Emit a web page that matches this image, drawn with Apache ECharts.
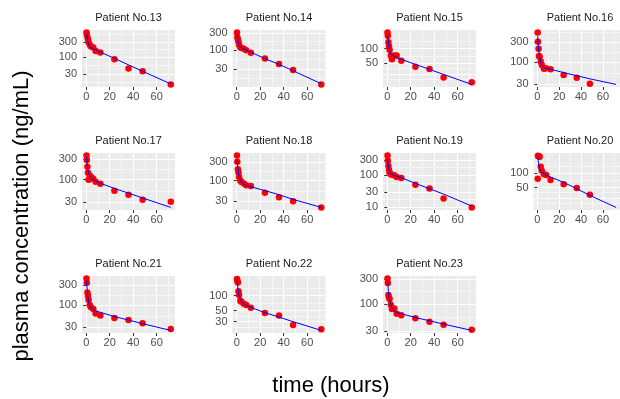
<!DOCTYPE html>
<html>
<head>
<meta charset="utf-8">
<script src="https://cdn.jsdelivr.net/npm/echarts@6/dist/echarts.min.js"></script>
<style>
  html, body { margin: 0; padding: 0; background: #ffffff; overflow: hidden; }
  #chart { width: 620px; height: 399px; }
</style>
</head>
<body>
<div id="chart"></div>
<script>
// Sampling times (hours after dose)
const hours = [0.25, 0.5, 1, 1.5, 2, 3, 4, 6, 8, 12, 24, 36, 48, 72];

// Observed plasma concentrations (ng/mL) per patient
const obs13 = [580, 500, 420, 350, 290, 240, 215, 200, 155, 138, 85, 44, 36, 14];
const obs14 = [310, 230, 200, 170, 140, 120, 115, 110, 100, 85, 58, 41, 28, 11];
const obs15 = [216, 185, 136, 112, 95, 72, 60, 72, 72, 56, 42, 37.5, 25, 20];
const obs16 = [515, 310, 210, 140, 135, 104, 85, 69, 71, 67, 48.6, 42, 30, null];
const obs17 = [360, 285, 200, 145, 100, 125, 115, 105, 90, 81, 56, 45, 34.5, 31];
const obs18 = [430, 300, 195, 160, 124, 101, 92, 84, 76, 73, 49, 38, 30, 21];
const obs19 = [410, 285, 195, 145, 120, 108, 104, 100, 89, 82, 51, 38.5, 19, 10];
const obs20 = [76, 232, 228, 225, 223, 136, 113, 95, 92, 72, 58.5, 49, 35, null];
const obs21 = [420, 335, 198, 165, 133, 100, 88, 80, 63, 56, 49, 44, 37, 27];
const obs22 = [215, 200, 184, 123, 103, 79, 75, 69, 65, 57, 45, 40, 25.7, 21];
const obs23 = [310, 254, 150, 134, 125, 97, 80, 82, 65, 61, 53, 45.5, 40, 32];

// Model-predicted concentrations (ng/mL) at the same times
const fit13 = [520, 440, 350, 290, 250, 210, 195, 180, 167, 143, 91, 57, 36, 14.5];
const fit14 = [290, 250, 190, 160, 140, 122, 115, 108, 100, 88, 58, 40, 26.5, 11.5];
const fit15 = [200, 170, 130, 105, 92, 78, 72, 68, 65, 60, 47, 37, 29, 18];
const fit16 = [420, 330, 230, 170, 135, 100, 85, 74, 71, 67, 56, 47, 39.5, 29];
const fit17 = [330, 280, 210, 165, 140, 120, 110, 100, 93, 83, 63, 49, 38, 23];
const fit18 = [340, 280, 200, 155, 130, 105, 92, 82, 76, 70, 56, 44, 33.5, 21];
const fit19 = [340, 270, 190, 150, 127, 110, 104, 99, 93, 84, 56, 38, 26, 11];
const fit20 = [235, 200, 160, 140, 125, 110, 103, 96, 91, 83, 64, 47, 34, 19];
const fit21 = [380, 300, 200, 150, 120, 95, 85, 76, 72, 67, 53, 44, 36, 25];
const fit22 = [220, 180, 140, 115, 100, 85, 77, 69, 64, 58, 45.5, 37, 30, 20];
const fit23 = [290, 240, 175, 140, 120, 97, 85, 74, 69, 65, 55, 47.5, 41, 31];

// Axis breaks
const xBreaks = [0, 20, 40, 60];
const xMinorBreaks = [10, 30, 50, 70];
const yBreaksA = [30, 100, 300];
const yBreaksB = [30, 50, 100];
const yBreaksC = [10, 30, 100, 300];

const panelTitles = ['Patient No.13', 'Patient No.14', 'Patient No.15', 'Patient No.16',
  'Patient No.17', 'Patient No.18', 'Patient No.19', 'Patient No.20',
  'Patient No.21', 'Patient No.22', 'Patient No.23'];
const panelObs = [obs13, obs14, obs15, obs16, obs17, obs18, obs19, obs20, obs21, obs22, obs23];
const panelFit = [fit13, fit14, fit15, fit16, fit17, fit18, fit19, fit20, fit21, fit22, fit23];
const panelBreaks = [yBreaksA, yBreaksA, yBreaksB, yBreaksA, yBreaksA, yBreaksA, yBreaksC,
  yBreaksB, yBreaksA, yBreaksB, yBreaksA];

// Facet layout (4 columns)
const colLeft = [82, 232.5, 383, 533.5];
const rowTop = [30, 153, 276];
const panelW = 93;
const panelH = 57;

const FONT = '"Liberation Sans", Arial, Helvetica, sans-serif';
const xMin = -3.6, xMax = 75.6;

// minor breaks midway between majors in log space (extended one step each side)
function minorBreaks(logMajors) {
  const b = logMajors.slice();
  b.unshift(b[0] - (b[1] - b[0]));
  b.push(b[b.length - 1] + (b[b.length - 1] - b[b.length - 2]));
  const out = [];
  for (let i = 0; i < b.length - 1; i++) out.push((b[i] + b[i + 1]) / 2);
  return out;
}

const grid = [], xAxis = [], yAxis = [], series = [], graphic = [];

panelTitles.forEach((title, i) => {
  const col = i % 4, row = Math.floor(i / 4);
  const left = colLeft[col], top = rowTop[row];
  grid.push({
    left: left, top: top, width: panelW, height: panelH,
    show: true, backgroundColor: '#EBEBEB', borderWidth: 0, containLabel: false
  });

  const logObs = panelObs[i].filter(v => v != null).map(Math.log10);
  const logFit = panelFit[i].filter(v => v != null).map(Math.log10);
  const all = logObs.concat(logFit);
  const lo = Math.min.apply(null, all), hi = Math.max.apply(null, all);
  const pad = (hi - lo) * 0.05;
  const yMin = lo - pad, yMax = hi + pad;
  const majors = panelBreaks[i].map(Math.log10);
  const minors = minorBreaks(majors).filter(v => v > yMin && v < yMax);

  // main x axis: major grid, ticks, labels
  xAxis.push({
    type: 'value', gridIndex: i, min: xMin, max: xMax,
    axisLine: { show: false },
    axisTick: { show: true, inside: false, length: 3, lineStyle: { color: '#333333', width: 1 }, customValues: xBreaks },
    axisLabel: { show: true, customValues: xBreaks, color: '#4D4D4D', fontSize: 11, fontFamily: FONT, margin: 4 },
    splitLine: { show: true, lineStyle: { color: '#FFFFFF', width: 1.1 } },
    z: 2
  });
  // secondary x axis: minor grid only
  xAxis.push({
    type: 'value', gridIndex: i, min: xMin, max: xMax,
    axisLine: { show: false },
    axisTick: { show: false, customValues: xMinorBreaks },
    axisLabel: { show: false, customValues: xMinorBreaks },
    splitLine: { show: true, lineStyle: { color: '#FFFFFF', width: 0.55 } },
    z: 1
  });
  yAxis.push({
    type: 'value', gridIndex: i, min: yMin, max: yMax,
    axisLine: { show: false },
    axisTick: { show: true, inside: false, length: 3, lineStyle: { color: '#333333', width: 1 }, customValues: majors },
    axisLabel: {
      show: true, customValues: majors, color: '#4D4D4D', fontSize: 11, fontFamily: FONT, margin: 5,
      formatter: v => String(Math.round(Math.pow(10, v)))
    },
    splitLine: { show: true, lineStyle: { color: '#FFFFFF', width: 1.1 } },
    z: 2
  });
  yAxis.push({
    type: 'value', gridIndex: i, min: yMin, max: yMax,
    axisLine: { show: false },
    axisTick: { show: false, customValues: minors },
    axisLabel: { show: false, customValues: minors },
    splitLine: { show: true, lineStyle: { color: '#FFFFFF', width: 0.55 } },
    z: 1
  });

  const obsPts = [], fitPts = [];
  hours.forEach((t, k) => {
    if (panelObs[i][k] != null) obsPts.push([t, Math.log10(panelObs[i][k])]);
    if (panelFit[i][k] != null) fitPts.push([t, Math.log10(panelFit[i][k])]);
  });
  series.push({
    type: 'scatter', xAxisIndex: 2 * i, yAxisIndex: 2 * i, data: obsPts,
    symbol: 'circle', symbolSize: 6.5, itemStyle: { color: '#FF0000', opacity: 1 }, silent: true, z: 3
  });
  series.push({
    type: 'line', xAxisIndex: 2 * i, yAxisIndex: 2 * i, data: fitPts,
    showSymbol: false, symbol: 'none', lineStyle: { color: '#0000FF', width: 1 }, silent: true, z: 4
  });

  graphic.push({
    type: 'text', x: left + panelW / 2, y: top - 7,
    style: { text: title, textAlign: 'center', textVerticalAlign: 'bottom', fill: '#1A1A1A', fontSize: 11, fontFamily: FONT }
  });
});

// axis titles
graphic.push({
  type: 'text', x: 331, y: 386,
  style: { text: 'time (hours)', textAlign: 'center', textVerticalAlign: 'middle', fill: '#000000', fontSize: 22, fontFamily: FONT }
});
graphic.push({
  type: 'text', x: 22, y: 216, rotation: Math.PI / 2,
  style: { text: 'plasma concentration (ng/mL)', textAlign: 'center', textVerticalAlign: 'middle', fill: '#000000', fontSize: 22, fontFamily: FONT }
});

const chart = echarts.init(document.getElementById('chart'), null, { renderer: 'canvas' });
chart.setOption({
  animation: false,
  backgroundColor: '#FFFFFF',
  grid: grid, xAxis: xAxis, yAxis: yAxis, series: series, graphic: graphic
});
</script>
</body>
</html>
